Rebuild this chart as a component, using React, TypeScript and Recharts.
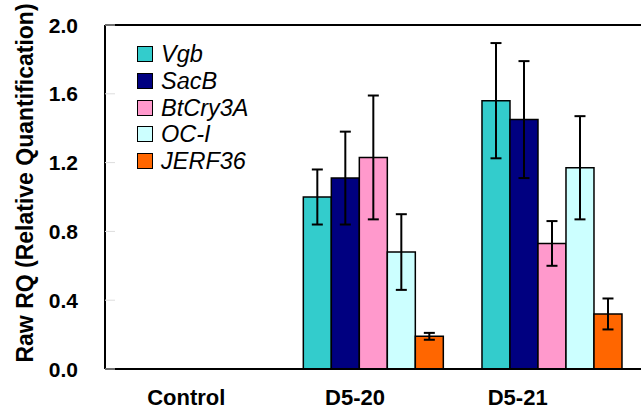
import React from 'react';
import { BarChart, Bar, XAxis, YAxis, ErrorBar, Legend, ReferenceLine } from 'recharts';

const categories = ['Control', 'D5-20', 'D5-21'];
const seriesNames = ['Vgb', 'SacB', 'BtCry3A', 'OC-I', 'JERF36'];
const seriesColors = ['#33CCCC', '#000080', '#FF99CC', '#CCFFFF', '#FF6600'];
const vgb = [null, 1.0, 1.56];
const vgbErr = [null, 0.16, 0.335];
const sacB = [null, 1.11, 1.45];
const sacBErr = [null, 0.27, 0.34];
const btCry3A = [null, 1.23, 0.73];
const btCry3AErr = [null, 0.36, 0.13];
const ocI = [null, 0.68, 1.17];
const ocIErr = [null, 0.22, 0.3];
const jerf36 = [null, 0.19, 0.32];
const jerf36Err = [null, 0.02, 0.09];
const yTicks = [0, 0.4, 0.8, 1.2, 1.6, 2.0];
const yLabel = 'Raw RQ (Relative Quantification)';

const values = [vgb, sacB, btCry3A, ocI, jerf36];
const errors = [vgbErr, sacBErr, btCry3AErr, ocIErr, jerf36Err];

const data = categories.map((c, i) => {
  const row: any = { cat: c };
  seriesNames.forEach((s, k) => {
    row[s] = values[k][i];
    row[s + '_err'] = errors[k][i];
  });
  return row;
});

const FONT = '"Liberation Sans", Arial, sans-serif';
const xTickShift: Record<string, number> = { Control: -8, 'D5-20': -18, 'D5-21': -34 };

const YTick = (props: any) => {
  const { x, y, payload } = props;
  return (
    <g>
      <line x1={x + 27} x2={x + 37} y1={y} y2={y} stroke="#dddddd" strokeWidth={1} />
      <text x={x} y={y} textAnchor="end" dominantBaseline="central" fontFamily={FONT} fontWeight="bold" fontSize={21} fill="#000">
        {Number(payload.value).toFixed(1)}
      </text>
    </g>
  );
};

const XTick = (props: any) => {
  const { x, payload } = props;
  return (
    <text x={x + (xTickShift[payload.value] || 0)} y={397} textAnchor="middle" dominantBaseline="central" fontFamily={FONT} fontWeight="bold" fontSize={22} fill="#000">
      {payload.value}
    </text>
  );
};

const LegendContent = () => (
  <div style={{ fontFamily: FONT, fontStyle: 'italic', fontSize: 23.5 }}>
    {seriesNames.map((s, i) => (
      <div key={s} style={{ display: 'flex', alignItems: 'center', height: 26.7 }}>
        <div style={{ width: 14, height: 14, background: seriesColors[i], border: '1.5px solid #000', marginRight: 8 }} />
        <span style={{ lineHeight: '26px' }}>{s}</span>
      </div>
    ))}
  </div>
);

export default function App() {
  return (
    <div style={{ position: 'absolute', left: 0, top: 0, background: '#fff' }}>
      <BarChart width={643} height={411} data={data} margin={{ top: 25, right: 2, left: 0, bottom: 0 }} barCategoryGap="11%" barGap={0}>
        <XAxis dataKey="cat" height={42} axisLine={{ stroke: '#000', strokeWidth: 2 }} tickLine={false} tick={<XTick />} interval={0} />
        <YAxis
          domain={[0, 2]}
          ticks={yTicks}
          width={105}
          axisLine={{ stroke: '#000', strokeWidth: 2 }}
          tickLine={false}
          tickSize={0}
          tickMargin={27}
          tick={<YTick />}
          allowDataOverflow
          label={{
            content: (p: any) => {
              const vb = p.viewBox;
              const cx = 25;
              const cy = vb.y + vb.height / 2 - 14;
              return (
                <text x={cx} y={cy} transform={`rotate(-90 ${cx} ${cy})`} textAnchor="middle" dominantBaseline="central" fontFamily={FONT} fontWeight="bold" fontSize={23} fill="#000">
                  {yLabel}
                </text>
              );
            },
          }}
        />
        <YAxis yAxisId="right" orientation="right" width={0} domain={[0, 2]} axisLine={{ stroke: '#000', strokeWidth: 2 }} tickLine={false} tick={false} />
        <ReferenceLine y={2} stroke="#000" strokeWidth={2} ifOverflow="extendDomain" />
        <Legend content={<LegendContent />} layout="horizontal" verticalAlign="middle" align="center" wrapperStyle={{ top: 41, left: 137, width: 160 }} />
        {seriesNames.map((s, i) => (
          <Bar key={s} dataKey={s} fill={seriesColors[i]} stroke="#000" strokeWidth={1.5} isAnimationActive={false}>
            <ErrorBar dataKey={s + '_err'} width={5.5} stroke="#000" strokeWidth={2} direction="y" />
          </Bar>
        ))}
      </BarChart>
    </div>
  );
}
